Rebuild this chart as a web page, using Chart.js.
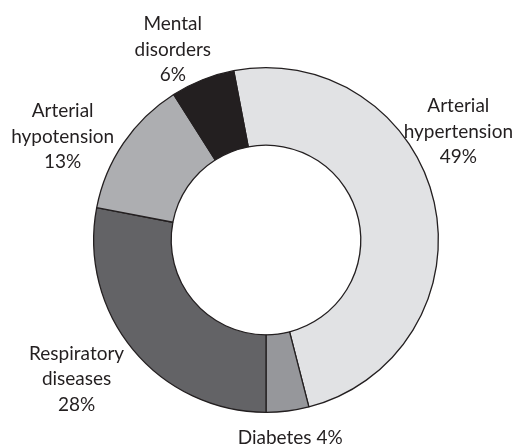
<!DOCTYPE html>
<html>
<head>
<meta charset="utf-8">
<script src="https://cdn.jsdelivr.net/npm/chart.js@4"></script>
<style>
  html, body { margin: 0; padding: 0; background: #fff; }
  #wrap { width: 515px; height: 447px; }
</style>
</head>
<body>
<div id="wrap"><canvas id="diseaseChart" width="515" height="447"></canvas></div>
<script>
// Datos
var categories = ['Arterial hypertension', 'Diabetes', 'Respiratory diseases', 'Arterial hypotension', 'Mental disorders'];
var shares = [49, 4, 28, 13, 6];
var colors = ['#e1e2e4', '#96979b', '#636366', '#adaeb1', '#231f20'];

// where each label sits, relative to the centre, in outer-radius units
var labelLayout = [
    { dx: 1.116, dy: -0.628, inline: false },
    { dx: 0.14, dy: 1.151, inline: true },
    { dx: -1.099, dy: 0.808, inline: false },
    { dx: -1.18, dy: -0.599, inline: false },
    { dx: -0.541, dy: -1.105, inline: false }
];

var outsideLabels = {
    id: 'outsideLabels',
    afterDatasetsDraw: function (chart) {
        var ctx = chart.ctx;
        var arcs = chart.getDatasetMeta(0).data;
        ctx.save();
        ctx.font = '19px Lato';
        ctx.fillStyle = '#231f20';
        ctx.textAlign = 'center';
        ctx.textBaseline = 'middle';
        var lineH = 25.5;
        arcs.forEach(function (arc, i) {
            var lay = labelLayout[i];
            var cx = arc.x + lay.dx * arc.outerRadius;
            var cy = arc.y + lay.dy * arc.outerRadius;
            var pct = shares[i] + '%';
            var lines = lay.inline ? [categories[i] + ' ' + pct] : categories[i].split(' ').concat([pct]);
            var top = cy - (lines.length - 1) * lineH / 2;
            lines.forEach(function (t, k) {
                ctx.fillText(t, cx, top + k * lineH);
            });
        });
        ctx.restore();
    }
};

var ctx1 = document.getElementById('diseaseChart').getContext('2d');
var diseaseChart = new Chart(ctx1, {
    type: 'doughnut',
    data: {
        labels: categories,
        datasets: [{
            data: shares,
            backgroundColor: colors,
            borderColor: '#231f20',
            borderWidth: 1.3
        }]
    },
    options: {
        responsive: false,
        animation: false,
        cutout: '55%',
        rotation: -10.8,
        layout: { padding: { top: 67, bottom: 34, left: 17, right: 0 } },
        plugins: {
            legend: { display: false },
            tooltip: { enabled: false }
        }
    },
    plugins: [outsideLabels]
});
</script>
</body>
</html>
